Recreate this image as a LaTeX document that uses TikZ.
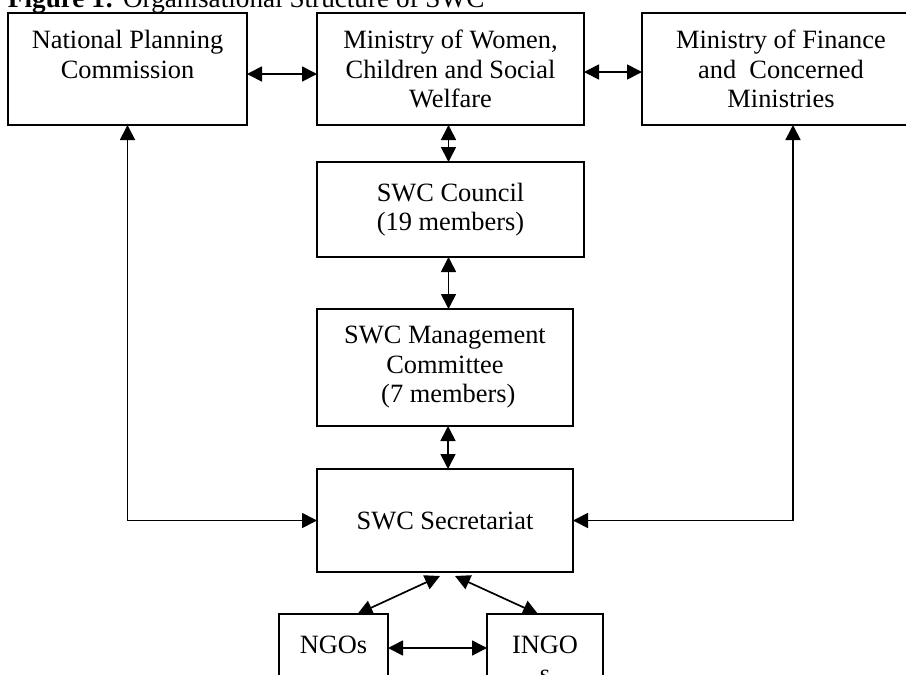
\documentclass[tikz,border=0pt]{standalone}
\usepackage{fontspec}
\setmainfont{Liberation Serif}
\usetikzlibrary{arrows.meta}

\begin{document}
\begin{tikzpicture}[x=0.5pt, y=-0.5pt,
  every node/.style={font=\fontsize{13.2}{14.75}\selectfont, inner sep=0pt, outer sep=0pt},
  box/.style={draw, line width=1pt, rectangle, align=center},
  link/.style={{Triangle[length=7.5pt,width=7.5pt]}-{Triangle[length=7.5pt,width=7.5pt]}, line width=0.85pt}]
  \useasboundingbox (0,0) rectangle (906,675);
  \clip (0,0) rectangle (906,675);
  \node [anchor=base west, font=\fontsize{13.6}{16}\selectfont] (title) at (8,7) {\textbf{Figure 1:} Organisational Structure of SWC};
  \node [box, minimum width=119.5pt, minimum height=56pt] (npc) at (127.5,69) {National Planning\\Commission\\\mbox{}};
  \node [box, minimum width=133.5pt, minimum height=56pt] (women) at (450.5,69) {Ministry of Women,\\Children and Social\\Welfare};
  \node [box, minimum width=139pt, minimum height=56pt] (finance) at (781,69) {Ministry of Finance\\and\ \ Concerned\\Ministries};
  \node [box, minimum width=133.5pt, minimum height=47.5pt] (council) at (450.5,209.5) {SWC Council\\(19 members)};
  \node [box, minimum width=128pt, minimum height=58.5pt] (mgmt) at (445,367.5) {SWC Management\\Committee\\\ (7 members)};
  \node [box, minimum width=128pt, minimum height=51.5pt] (sec) at (445,520.5) {SWC Secretariat};
  \node [box, minimum width=54.5pt, minimum height=45.5pt] (ngo) at (333.5,659.5) {NGOs\\\mbox{}};
  \node [box, minimum width=58pt, minimum height=45.5pt] (ingo) at (545,659.5) {INGO\\s};
  \draw [link] ([yshift=-2.5pt]npc.east) -- ([yshift=-2.5pt]npc.east -| women.west);
  \draw [link] ([yshift=-1.5pt]women.east) -- ([yshift=-1.5pt]women.east -| finance.west);
  \draw [link] ([xshift=-1pt]women.south) -- ([xshift=-1pt]council.north);
  \draw [link] ([xshift=-1pt]council.south) -- ([xshift=-1pt]council.south |- mgmt.north);
  \draw [link] ([xshift=1.5pt]mgmt.south) -- ([xshift=1.5pt]sec.north);
  \draw [link] (npc.south) |- (sec.west);
  \draw [link] ([xshift=6pt]finance.south) |- (sec.east);
  \draw [link] ([xshift=-2.5pt,yshift=-2pt]sec.south) -- ([xshift=12pt]ngo.north);
  \draw [link] ([xshift=5pt,yshift=-2pt]sec.south) -- ([xshift=-3.5pt]ingo.north);
  \draw [link] ([yshift=5.75pt]ngo.east) -- ([yshift=5.75pt]ngo.east -| ingo.west);
\end{tikzpicture}
\end{document}
